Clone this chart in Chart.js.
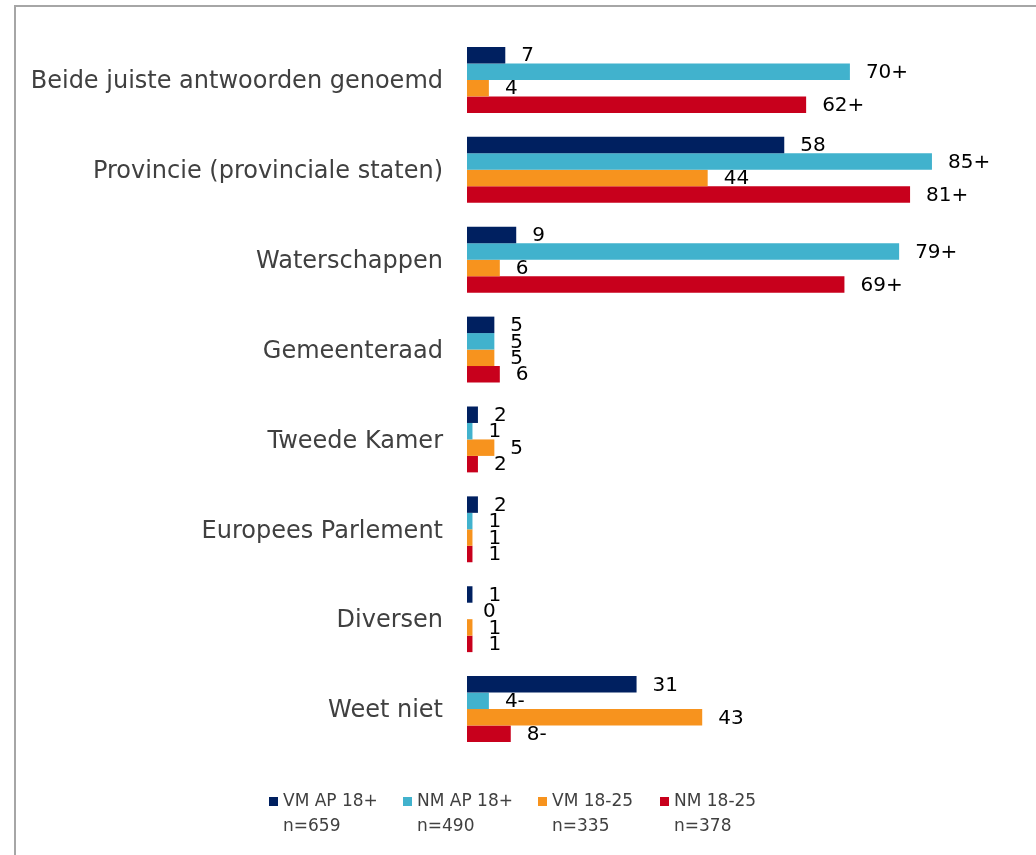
<!DOCTYPE html>
<html>
<head>
<meta charset="utf-8">
<script src="https://cdn.jsdelivr.net/npm/chart.js@4.4.1/dist/chart.umd.min.js"></script>
<style>
  html, body { margin: 0; padding: 0; background: #fff; width: 1036px; height: 855px; overflow: hidden; }
  #frame { position: absolute; left: 14px; top: 5px; width: 1100px; height: 900px; border-left: 2px solid #a6a6a6; border-top: 2px solid #a6a6a6; }
  #wrap { position: absolute; left: 0; top: 0; width: 1036px; height: 855px; }
</style>
</head>
<body>
<div id="frame"></div>
<div id="wrap"><canvas id="c" width="1036" height="855"></canvas></div>
<script>
const categories = [
  'Beide juiste antwoorden genoemd',
  'Provincie (provinciale staten)',
  'Waterschappen',
  'Gemeenteraad',
  'Tweede Kamer',
  'Europees Parlement',
  'Diversen',
  'Weet niet'
];
const seriesNames = ['VM AP 18+', 'NM AP 18+', 'VM 18-25', 'NM 18-25'];
const seriesN = ['n=659', 'n=490', 'n=335', 'n=378'];
const vmAP = [7, 58, 9, 5, 2, 2, 1, 31];
const nmAP = [70, 85, 79, 5, 1, 1, 0, 4];
const vm1825 = [4, 44, 6, 5, 5, 1, 1, 43];
const nm1825 = [62, 81, 69, 6, 2, 1, 1, 8];
const nmAPSuffix = ['+', '+', '+', '', '', '', '', '-'];
const nm1825Suffix = ['+', '+', '+', '', '', '', '', '-'];
const noSuffix = ['', '', '', '', '', '', '', ''];
const colors = ['#002060', '#41B2CD', '#F7931E', '#C8001C'];

const values = [vmAP, nmAP, vm1825, nm1825];
const suffixes = [noSuffix, nmAPSuffix, noSuffix, nm1825Suffix];

const valueLabels = {
  id: 'valueLabels',
  afterDatasetsDraw(chart) {
    const ctx = chart.ctx;
    ctx.save();
    ctx.font = '20px "DejaVu Sans"';
    ctx.fillStyle = '#000';
    ctx.textAlign = 'left';
    ctx.textBaseline = 'middle';
    chart.data.datasets.forEach((ds, di) => {
      const meta = chart.getDatasetMeta(di);
      meta.data.forEach((el, i) => {
        ctx.fillText(String(ds.data[i]) + suffixes[di][i], el.x + 16, el.y + 1);
      });
    });
    ctx.restore();
  }
};

const legendPlugin = {
  id: 'twoLineLegend',
  afterDraw(chart) {
    const ctx = chart.ctx;
    const xs = [269, 403, 538, 660];
    ctx.save();
    ctx.font = '17px "DejaVu Sans"';
    ctx.textBaseline = 'middle';
    ctx.textAlign = 'left';
    chart.data.datasets.forEach((ds, di) => {
      const x = xs[di];
      ctx.fillStyle = ds.backgroundColor;
      ctx.fillRect(x, 797, 9, 9);
      ctx.fillStyle = '#404040';
      ctx.fillText(ds.label, x + 14, 802);
      ctx.fillText(seriesN[di], x + 14, 827);
    });
    ctx.restore();
  }
};

new Chart(document.getElementById('c'), {
  type: 'bar',
  data: {
    labels: categories,
    datasets: seriesNames.map((name, i) => ({
      label: name,
      data: values[i],
      backgroundColor: colors[i],
      borderWidth: 0,
      barPercentage: 1,
      categoryPercentage: 0.733
    }))
  },
  options: {
    indexAxis: 'y',
    responsive: false,
    animation: false,
    events: [],
    layout: { padding: { top: 35, bottom: 101, left: 0, right: 22 } },
    plugins: { legend: { display: false }, tooltip: { enabled: false } },
    scales: {
      x: { display: false, min: 0, max: 100 },
      y: {
        grid: { display: false, drawTicks: false },
        border: { display: false },
        ticks: { color: '#404040', font: { family: 'DejaVu Sans', size: 24 }, padding: 24, labelOffset: 2 },
        afterFit(scale) { scale.width = 467; scale.paddingTop = 0; scale.paddingBottom = 0; }
      }
    }
  },
  plugins: [valueLabels, legendPlugin]
});
</script>
</body>
</html>
